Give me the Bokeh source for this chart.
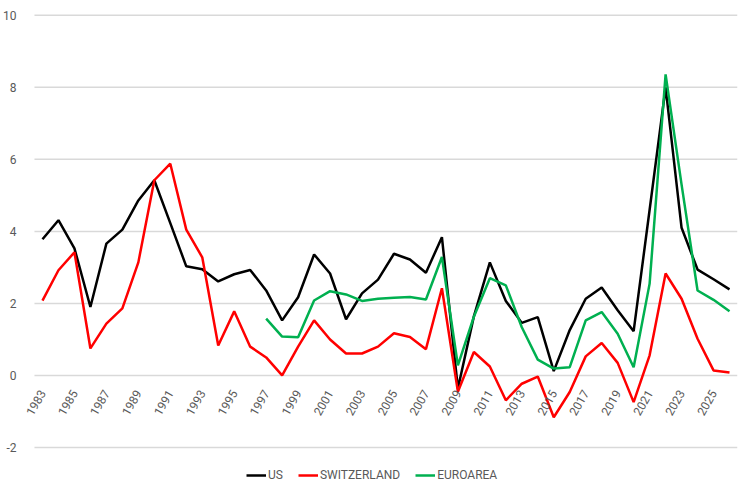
import math
from bokeh.plotting import figure
from bokeh.models import (Range1d, FixedTicker, Legend, LegendItem, ColumnDataSource,
                          PrintfTickFormatter)
from bokeh.core.properties import value
from bokeh.embed import file_html
from bokeh.resources import INLINE

years = list(range(1983, 2027))
us = [3.78, 4.31, 3.53, 1.90, 3.66, 4.05, 4.86, 5.42, 4.23, 3.03,
      2.95, 2.61, 2.81, 2.93, 2.36, 1.53, 2.17, 3.36, 2.83, 1.56,
      2.28, 2.66, 3.38, 3.22, 2.85, 3.84, -0.36, 1.64, 3.14, 2.07,
      1.46, 1.62, 0.12, 1.26, 2.13, 2.44, 1.81, 1.23, 4.60, 8.00,
      4.10, 2.94, 2.67, 2.39]
switzerland = [2.08, 2.92, 3.42, 0.75, 1.44, 1.86, 3.14, 5.42, 5.88, 4.05,
               3.28, 0.83, 1.78, 0.80, 0.50, 0.00, 0.80, 1.53, 1.00, 0.61,
               0.61, 0.80, 1.17, 1.07, 0.73, 2.42, -0.45, 0.65, 0.25, -0.69,
               -0.23, -0.03, -1.16, -0.46, 0.53, 0.90, 0.35, -0.74, 0.56, 2.83,
               2.13, 1.02, 0.14, 0.08]
euro_years = list(range(1997, 2027))
euroarea = [1.58, 1.08, 1.06, 2.08, 2.34, 2.25, 2.07, 2.13, 2.16, 2.18,
            2.11, 3.29, 0.28, 1.63, 2.70, 2.50, 1.34, 0.44, 0.19, 0.23,
            1.53, 1.76, 1.16, 0.23, 2.55, 8.36, 5.30, 2.36, 2.10, 1.78]
label_years = list(range(1983, 2027, 2))
y_ticks = [-2, 0, 2, 4, 6, 8, 10]

FONT = "Roboto"
GREY = "#595959"

Y_LO, Y_HI = -3.0, 10.05
FRAME_H = 470
PX_PER_UNIT = FRAME_H / (Y_HI - Y_LO)
LABEL_GAP_PX = 15.5  # distance of the rotated labels' anchor below the zero line

p = figure(width=748, height=FRAME_H + 15, output_backend="svg", toolbar_location=None,
           x_range=Range1d(1981.875, 2026.5), y_range=Range1d(Y_LO, Y_HI),
           min_border_left=24, min_border_right=11, min_border_top=13,
           min_border_bottom=2)
p.outline_line_color = None
p.xaxis.visible = False
p.xgrid.visible = False
p.ygrid.visible = False

# horizontal gridlines spanning the category area only
x_lo = years[0] - 0.5
x_hi = years[-1] + 0.5
p.segment(x0=[x_lo] * len(y_ticks), x1=[x_hi] * len(y_ticks), y0=y_ticks, y1=y_ticks,
          line_color="#d9d9d9", line_width=1.5)

p.yaxis.ticker = FixedTicker(ticks=y_ticks)
p.yaxis.formatter = PrintfTickFormatter(format="%d")
p.yaxis.axis_line_color = None
p.yaxis.major_tick_line_color = None
p.yaxis.minor_tick_line_color = None
p.yaxis.major_label_text_color = GREY
p.yaxis.major_label_text_font = FONT
p.yaxis.major_label_text_font_size = "12px"
p.yaxis.major_label_standoff = 2

r_us = p.line(years, us, line_color="#000000", line_width=2.5)
r_ch = p.line(years, switzerland, line_color="#ff0000", line_width=2.5)
r_eu = p.line(euro_years, euroarea, line_color="#00b050", line_width=2.5)

label_y = 0 - LABEL_GAP_PX / PX_PER_UNIT
lab_src = ColumnDataSource(dict(x=label_years, y=[label_y] * len(label_years),
                                t=[str(y) for y in label_years]))
p.text(x="x", y="y", text="t", source=lab_src, angle=math.pi / 3,
       text_align="right", text_baseline="middle",
       text_font=value(FONT), text_font_size="12px", text_color=GREY)

legend = Legend(items=[LegendItem(label="US", renderers=[r_us]),
                       LegendItem(label="SWITZERLAND", renderers=[r_ch]),
                       LegendItem(label="EUROAREA", renderers=[r_eu])],
                orientation="horizontal", location=(222, 0),
                label_text_font=FONT, label_text_font_size="12px",
                label_text_color=GREY, border_line_color=None,
                background_fill_alpha=0, glyph_width=20, glyph_height=16,
                label_height=16, label_width=0, label_standoff=2, spacing=15,
                padding=4, margin=0)
p.add_layout(legend)

open("out.html", "w").write(file_html(p, INLINE))
